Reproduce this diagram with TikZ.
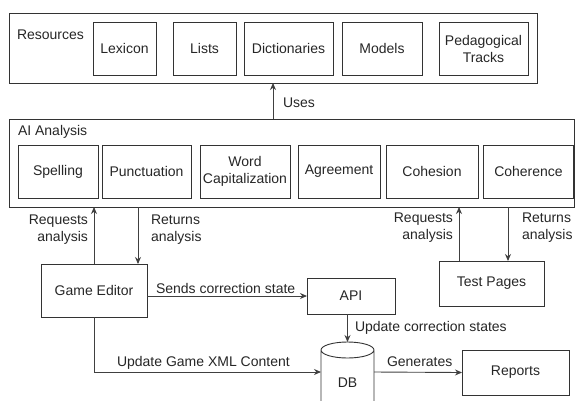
\documentclass[tikz,border=0pt]{standalone}
\usepackage{fontspec}
\setmainfont{Liberation Sans}
\usetikzlibrary{arrows.meta,calc}
\begin{document}
\begin{tikzpicture}[x=1pt,y=-1pt,
  every node/.style={font=\fontsize{14}{17}\selectfont, text=black!85},
  box/.style={draw=black!80, line width=0.9pt, inner sep=0pt, outer sep=0pt, align=center},
  lbl/.style={inner sep=0pt, outer sep=0pt},
  conn/.style={draw=black!75, line width=0.9pt, -{Stealth[length=7pt,width=6pt]}}]
\useasboundingbox (0,0) rectangle (575,400);
% Resources
\node[box, minimum width=528pt, minimum height=70pt] (res) at (273,48) {};
\node[lbl, anchor=west] (reslbl) at (17,35) {Resources};
\node[box, minimum width=63pt, minimum height=53pt] (lex) at (124.5,48.5) {Lexicon};
\node[box, minimum width=63pt, minimum height=53pt] (lists) at (204.5,48.5) {Lists};
\node[box, minimum width=89pt, minimum height=53pt] (dict) at (288.5,48.5) {Dictionaries};
\node[box, minimum width=80pt, minimum height=53pt] (models) at (382,48.5) {Models};
\node[box, minimum width=89pt, minimum height=53pt] (ped) at (483.5,48.5) {Pedagogical\\Tracks};
% AI Analysis
\node[box, minimum width=565pt, minimum height=88pt] (ai) at (291.5,163) {};
\node[lbl, anchor=west] (ailbl) at (18,132) {AI Analysis};
\node[box, minimum width=80pt, minimum height=53pt] (spell) at (58,171.5) {Spelling};
\node[box, minimum width=89pt, minimum height=53pt] (punct) at (146.5,171.5) {Punctuation};
\node[box, minimum width=90pt, minimum height=53pt] (wcap) at (245,171.5) {Word\\Capitalization};
\node[box, minimum width=82pt, minimum height=53pt] (agree) at (339,171.5) {Agreement};
\node[box, minimum width=92pt, minimum height=53pt] (cohes) at (432,171.5) {Cohesion};
\node[box, minimum width=90pt, minimum height=53pt] (coher) at (528.5,171.5) {Coherence};
% Uses
\coordinate (usesx) at (273,0);
\draw[conn] (usesx |- ai.north) -- (usesx |- res.south);
\node[lbl, anchor=west] (uses) at (283,103) {Uses};
% Lower nodes
\node[box, minimum width=106pt, minimum height=53pt] (ge) at (94,290.5) {Game Editor};
\node[box, minimum width=88pt, minimum height=36pt] (api) at (351,296) {API};
\node[box, minimum width=105pt, minimum height=45pt] (tp) at (491.5,283.5) {Test Pages};
\node[box, minimum width=107pt, minimum height=45pt] (rep) at (515.5,372.5) {Reports};
\node[lbl, minimum width=53pt, minimum height=60pt] (db) at (347.5,372) {};
\draw[draw=black!80, line width=0.9pt]
  (321,350) arc[start angle=180, end angle=360, x radius=26.5, y radius=8]
  (321,350) arc[start angle=180, end angle=0, x radius=26.5, y radius=8]
  (321,350) -- (321,402) (374,350) -- (374,402);
\node[lbl] at (347.5,383) {DB};
% Game editor connectors
\coordinate (ger) at (138,0);
\draw[conn] (ge.north) -- (ge.north |- ai.south);
\draw[conn] (ger |- ai.south) -- (ger |- ge.north);
\node[lbl, anchor=east, align=right] (reqL) at (88,229.5) {Requests\\analysis};
\node[lbl, anchor=west, align=left] (retL) at (151,229.5) {Returns\\analysis};
% Test pages connectors
\coordinate (tpq) at (459,0);
\coordinate (tpr) at (508,0);
\draw[conn] (tpq |- tp.north) -- (tpq |- ai.south);
\draw[conn] (tpr |- ai.south) -- (tpr |- tp.north);
\node[lbl, anchor=east, align=right] (reqR) at (453,228) {Requests\\analysis};
\node[lbl, anchor=west, align=left] (retR) at (522,228) {Returns\\analysis};
% Other connectors
\draw[conn] (ge.east |- api.west) -- (api.west);
\node[lbl, anchor=west] (sends) at (156,288) {Sends correction state};
\draw[conn] (db.north |- api.south) -- (db.north);
\node[lbl, anchor=west] (upd) at (355,328) {Update correction states};
\draw[conn] (ge.south) |- (db.west);
\node[lbl, anchor=west] (xml) at (117,363) {Update Game XML Content};
\draw[conn] (db.east) -- (rep.west);
\node[lbl, anchor=west] (gen) at (387,362) {Generates};
\end{tikzpicture}
\end{document}
